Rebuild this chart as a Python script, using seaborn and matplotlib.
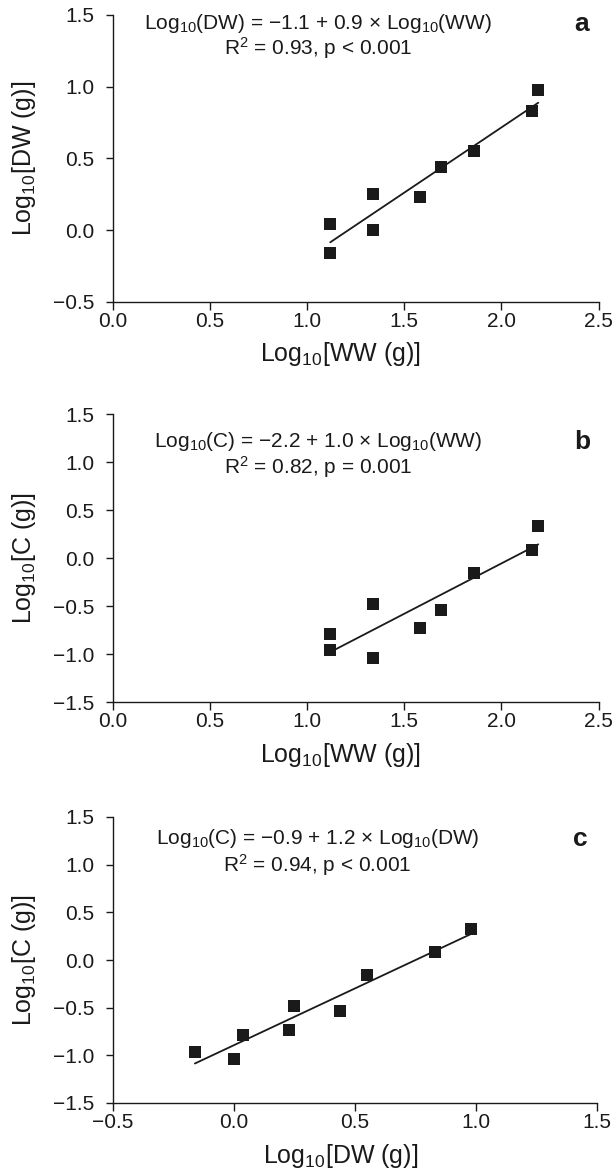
import numpy as np
import pandas as pd
import matplotlib
matplotlib.use("Agg")
import matplotlib.pyplot as plt
import matplotlib.transforms as mtransforms
import seaborn as sns

# ---- data ----
log_ww = [1.12, 1.12, 1.34, 1.34, 1.58, 1.69, 1.86, 2.16, 2.19]
log_dw = [-0.16, 0.04, 0.25, 0.00, 0.23, 0.44, 0.55, 0.83, 0.98]
log_c = [-0.96, -0.79, -0.48, -1.04, -0.73, -0.54, -0.16, 0.08, 0.33]

ticks_ww = [0.0, 0.5, 1.0, 1.5, 2.0, 2.5]
ticks_dw_x = [-0.5, 0.0, 0.5, 1.0, 1.5]
ticks_dw_y = [-0.5, 0.0, 0.5, 1.0, 1.5]
ticks_c = [-1.5, -1.0, -0.5, 0.0, 0.5, 1.0, 1.5]

eq_a = "Log$_{10}$(DW) = \u22121.1 + 0.9 \u00d7 Log$_{10}$(WW)"
r2_a = "R$^2$ = 0.93, p < 0.001"
eq_b = "Log$_{10}$(C) = \u22122.2 + 1.0 \u00d7 Log$_{10}$(WW)"
r2_b = "R$^2$ = 0.82, p = 0.001"
eq_c = "Log$_{10}$(C) = \u22120.9 + 1.2 \u00d7 Log$_{10}$(DW)"
r2_c = "R$^2$ = 0.94, p < 0.001"

sns.set_theme(style="ticks")
plt.rcParams["font.family"] = ["Liberation Sans", "DejaVu Sans"]
plt.rcParams["mathtext.default"] = "regular"
plt.rcParams["axes.unicode_minus"] = True

W, H = 612, 1176
fig = plt.figure(figsize=(W / 100, H / 100), dpi=100)


def rect(left, right, top, bottom):
    return [left / W, 1 - bottom / H, (right - left) / W, (bottom - top) / H]


panels = [
    dict(x=log_ww, y=log_dw, rect=rect(112.5, 598.5, 15, 301.7),
         xticks=ticks_ww, yticks=ticks_dw_y,
         xlabel="Log$_{10}$[WW (g)]", ylabel="Log$_{10}$[DW (g)]",
         eq=eq_a, r2=r2_a, letter="a", eq_y=1.44, r2_y=1.27),
    dict(x=log_ww, y=log_c, rect=rect(112.5, 598.5, 414, 702),
         xticks=ticks_ww, yticks=ticks_c,
         xlabel="Log$_{10}$[WW (g)]", ylabel="Log$_{10}$[C (g)]",
         eq=eq_b, r2=r2_b, letter="b", eq_y=1.21, r2_y=0.95),
    dict(x=log_dw, y=log_c, rect=rect(112.5, 597, 817, 1103),
         xticks=ticks_dw_x, yticks=ticks_c,
         xlabel="Log$_{10}$[DW (g)]", ylabel="Log$_{10}$[C (g)]",
         eq=eq_c, r2=r2_c, letter="c", eq_y=1.27, r2_y=1.0),
]

ink = "#1a1a1a"
for p in panels:
    ax = fig.add_axes(p["rect"])
    df = pd.DataFrame({"x": p["x"], "y": p["y"]})
    sns.regplot(data=df, x="x", y="y", ax=ax, ci=None, marker="s",
                scatter_kws=dict(s=70, color=ink, linewidths=0, alpha=1),
                line_kws=dict(color=ink, lw=1.3))
    ax.set_xlim(p["xticks"][0], p["xticks"][-1])
    ax.set_ylim(p["yticks"][0], p["yticks"][-1])
    ax.set_xticks(p["xticks"])
    ax.set_yticks(p["yticks"])
    ax.set_xticklabels([f"{v:.1f}".replace("-", "\u2212") for v in p["xticks"]])
    ax.set_yticklabels([f"{v:.1f}".replace("-", "\u2212") for v in p["yticks"]])
    for s in ["top", "right"]:
        ax.spines[s].set_visible(False)
    for s in ["left", "bottom"]:
        ax.spines[s].set_linewidth(1.0)
        ax.spines[s].set_color(ink)
    ax.tick_params(axis="x", direction="out", length=5.5, width=1.0,
                   color=ink, labelsize=15, pad=2, labelcolor=ink)
    ax.tick_params(axis="y", direction="out", length=5.0, width=1.0,
                   color=ink, labelsize=15, pad=8, labelcolor=ink)
    ax.set_xlabel(p["xlabel"], fontsize=18, color=ink)
    ax.set_ylabel(p["ylabel"], fontsize=18, color=ink)
    ax.xaxis.set_label_coords(0.47, -0.135)
    ax.yaxis.set_label_coords(-0.153, 0.5)
    tr = mtransforms.blended_transform_factory(ax.transAxes, ax.transData)
    ax.text(0.423, p["eq_y"], p["eq"], transform=tr,
            ha="center", va="center", fontsize=15, color=ink)
    ax.text(0.423, p["r2_y"], p["r2"], transform=tr,
            ha="center", va="center", fontsize=15, color=ink)
    ax.text(0.966, p["eq_y"], p["letter"], transform=tr,
            ha="center", va="center", fontsize=19, fontweight="bold", color=ink)
    ax.patch.set_alpha(0)

fig.savefig("out.png", dpi=100)
